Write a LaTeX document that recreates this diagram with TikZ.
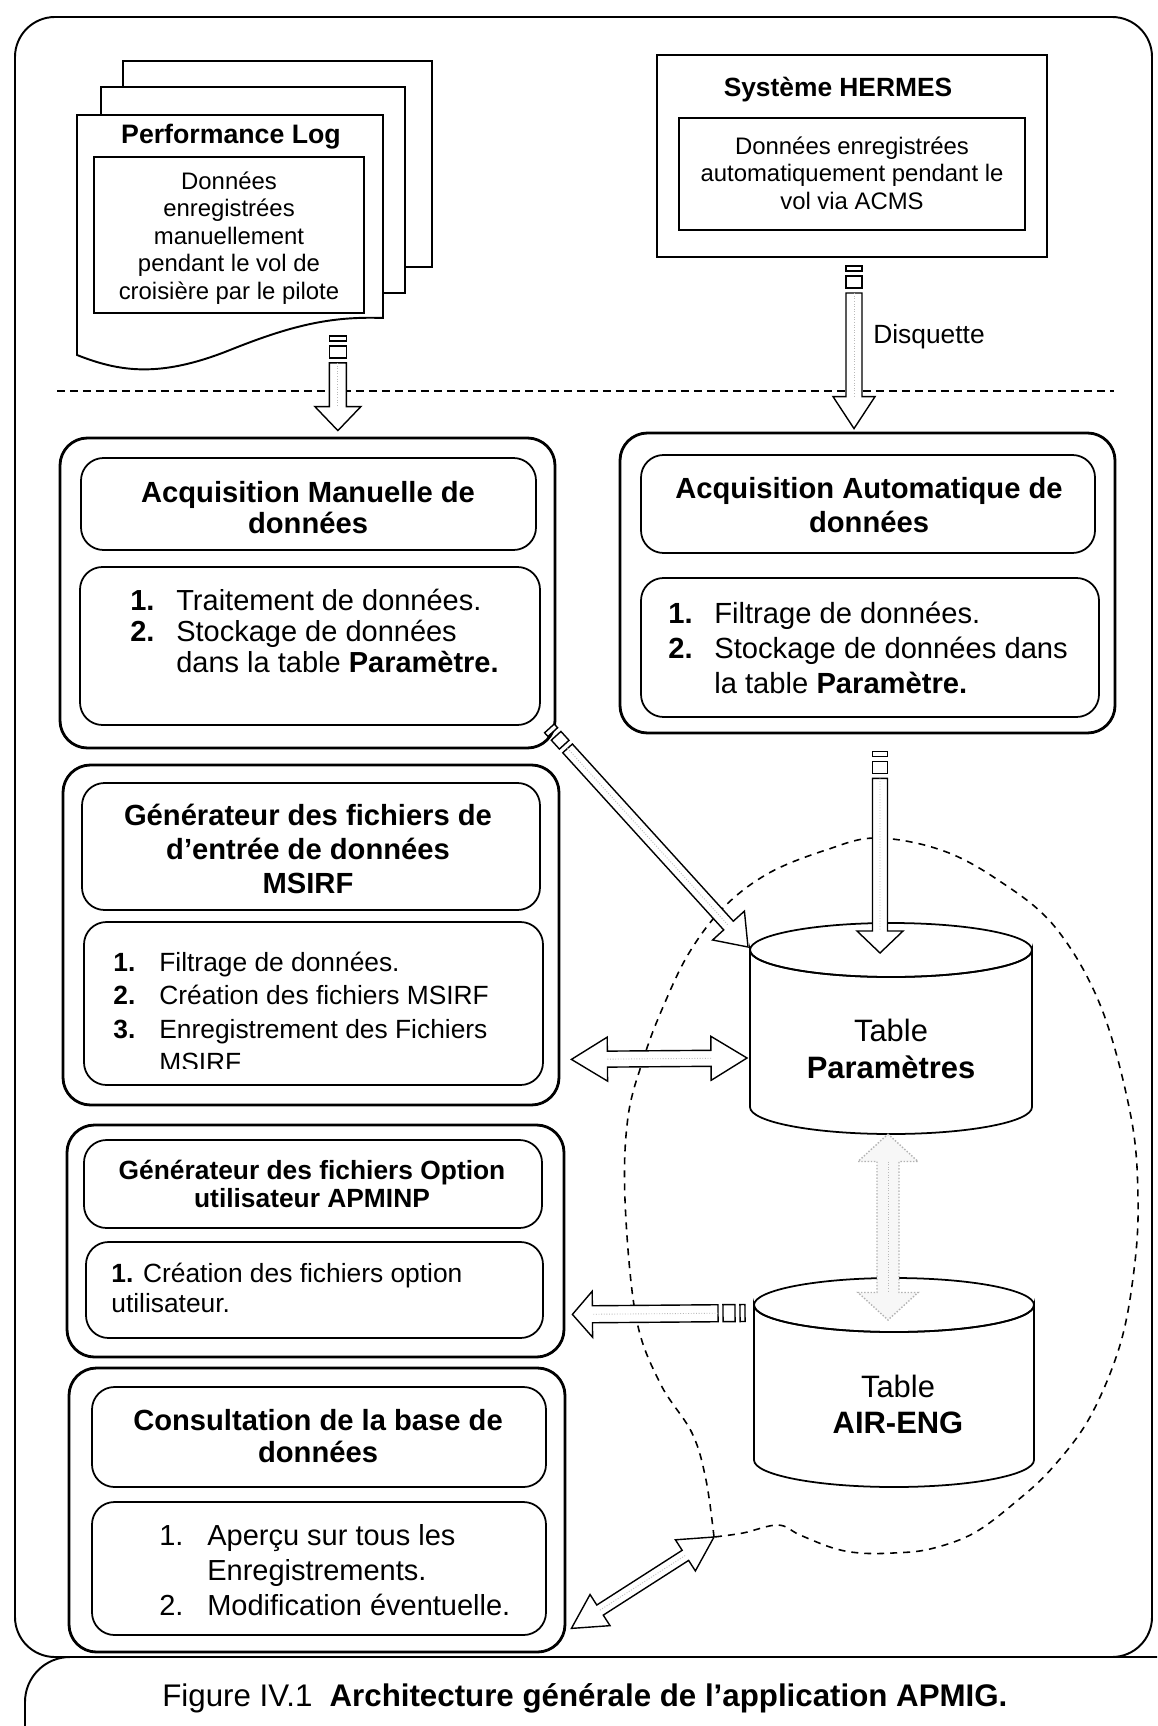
\documentclass[tikz,border=0pt]{standalone}
\usepackage{fontspec}
\setmainfont{Liberation Sans}
\usetikzlibrary{calc,fit}

% Block arrow with two stripes at the tail: [style]{tail}{tip}{shaft half width}{head half width}{head length}
\newcommand\stripedarrow[6][]{%
  \coordinate (sA) at (#2);
  \coordinate (sB) at (#3);
  \coordinate (s1) at ($(sA)!0.1cm!(sB)$);
  \coordinate (s2) at ($(sA)!0.2cm!(sB)$);
  \coordinate (s3) at ($(sA)!0.44cm!(sB)$);
  \coordinate (s4) at ($(sA)!0.54cm!(sB)$);
  \coordinate (sH) at ($(sB)!#6!(sA)$);
  \draw[arrowpart,#1] ($(sA)!#4!90:(sB)$) -- ($(s1)!#4!90:(sB)$) -- ($(s1)!#4!-90:(sB)$) -- ($(sA)!#4!-90:(sB)$) -- cycle;
  \draw[arrowpart,#1] ($(s2)!#4!90:(sB)$) -- ($(s3)!#4!90:(sB)$) -- ($(s3)!#4!-90:(sB)$) -- ($(s2)!#4!-90:(sB)$) -- cycle;
  \draw[arrowpart,#1] ($(s4)!#4!90:(sB)$) -- ($(sH)!#4!90:(sB)$) -- ($(sH)!#5!90:(sB)$) -- (sB)
     -- ($(sH)!#5!-90:(sB)$) -- ($(sH)!#4!-90:(sB)$) -- ($(s4)!#4!-90:(sB)$) -- cycle;
  \draw[shaftdots] (s4) -- (sH);
}

% Block arrow with a head at both ends: [style]{end A}{end B}{shaft half width}{head half width}{head length}
\newcommand\doublearrow[6][]{%
  \coordinate (dA) at (#2);
  \coordinate (dB) at (#3);
  \coordinate (dHA) at ($(dA)!#6!(dB)$);
  \coordinate (dHB) at ($(dB)!#6!(dA)$);
  \draw[arrowpart,#1] (dA) -- ($(dHA)!#5!90:(dB)$) -- ($(dHA)!#4!90:(dB)$) -- ($(dHB)!#4!-90:(dA)$)
     -- ($(dHB)!#5!-90:(dA)$) -- (dB) -- ($(dHB)!#5!90:(dA)$) -- ($(dHB)!#4!90:(dA)$)
     -- ($(dHA)!#4!-90:(dB)$) -- ($(dHA)!#5!-90:(dB)$) -- cycle;
  \draw[shaftdots] (dHA) -- (dHB);
}

\begin{document}
\begin{tikzpicture}[x=0.02cm, y=-0.02cm,
  frame/.style={draw, line width=1.1pt, rounded corners=0.8cm, inner sep=0pt},
  outerbox/.style={draw, line width=1.6pt, rounded corners=0.55cm, inner sep=0pt},
  innerbox/.style={draw, line width=1pt, rounded corners=0.45cm, inner sep=0pt},
  sqbox/.style={draw, line width=1.1pt, fill=white, inner sep=0pt},
  arrowpart/.style={draw, line width=0.8pt, fill=white, line join=miter},
  shaftdots/.style={gray!55, densely dotted, line width=0.5pt},
  sepline/.style={dash pattern=on 0.16cm off 0.1cm, line width=0.8pt},
  ovalline/.style={dash pattern=on 0.14cm off 0.12cm, line width=0.9pt},
  cyl/.style={line width=1pt},
  txt/.style={inner sep=0pt},
]
\useasboundingbox (0,0) rectangle (1157,1726);
\clip (0,0) rectangle (1157,1726);
\fill[white] (0,0) rectangle (1157,1726);

% outer frame and caption band
\node[frame, fit={(15,17) (1152,1657)}] (frame) {};
\node[frame, rounded corners=0.9cm, fit={(25,1657) (1250,1820)}] (capbox) {};
\node[txt, anchor=west, font=\fontsize{17.8}{20}\selectfont] (caption) at (162,1698)
  {Figure IV.1\hspace{0.55em}\textbf{Architecture générale de l’application APMIG.}};

% separation between data sources and the application
\draw[sepline] (57,391) -- (1114,391);

% boundary of the database
\coordinate (ovalnotch) at (714,1537);
\draw[ovalline] plot[smooth, tension=0.6] coordinates {
  (714,1537) (706,1480) (692,1433) (660,1383) (636,1317) (625,1200) (628,1117)
  (644,1057) (663,1007) (689,953) (724,907) (769,873) (826,850) (876,838)
  (941,850) (998,880) (1055,927) (1101,1007) (1131,1117) (1138,1200) (1134,1270)
  (1120,1345) (1090,1417) (1053,1467) (1018,1500) (974,1533) (930,1549)
  (893,1553) (860,1553) (833,1548) (800,1535) (778,1525) (743,1533) (714,1537)};

% Performance Log: stack of pages
\node[sqbox, fit={(123,61) (432,267)}] (page3) {};
\node[sqbox, fit={(101,87) (405,293)}] (page2) {};
\draw[line width=1.1pt, fill=white] (77,115) -- (383,115) -- (383,318)
  .. controls (330,316) and (290,326) .. (230,350)
  .. controls (160,378) and (120,372) .. (77,355) -- cycle;
\node[txt, font=\fontsize{15.2}{17}\selectfont\bfseries] (perftitle) at (231,137) {Performance Log};
\node[sqbox, line width=1pt, fit={(94,157) (364,313)}] (perfinner) {};
\node[txt, align=center, font=\fontsize{13.6}{15.6}\selectfont] (perftext) at (229,238)
  {Données\\enregistrées\\manuellement\\pendant le vol de\\croisière par le pilote};

% HERMES system
\node[sqbox, fit={(657,55) (1047,257)}] (hermes) {};
\node[txt, font=\fontsize{15}{17}\selectfont\bfseries] (hermestitle) at (838,90) {Système HERMES};
\node[sqbox, line width=1pt, fit={(679,118) (1025,230)}] (hermesinner) {};
\node[txt, align=center, font=\fontsize{13.6}{15.6}\selectfont] (hermestext) at (852,173)
  {Données enregistrées\\automatiquement pendant le\\vol via ACMS};

% Manual acquisition
\node[outerbox, fit={(60,438) (555,748)}] (acqman) {};
\node[innerbox, fit={(81,458) (536,550)}] (acqmantitle) {};
\node[innerbox, fit={(80,567) (540,725)}] (acqmanlist) {};
\node[txt, align=center, font=\fontsize{16.6}{17.6}\selectfont\bfseries] (acqmanhead) at (308,507.5)
  {Acquisition Manuelle de\\données};
\node[txt, anchor=west, align=left, font=\fontsize{16.5}{17.6}\selectfont] (acqmansteps) at (130,631)
  {\makebox[0.92cm][l]{\textbf{1.}}Traitement de données.\\
   \makebox[0.92cm][l]{\textbf{2.}}Stockage de données\\
   \hspace*{0.92cm}dans la table \textbf{Paramètre.}};

% Automatic acquisition
\node[outerbox, fit={(620,433) (1115,733)}] (acqauto) {};
\node[innerbox, fit={(641,455) (1095,553)}] (acqautotitle) {};
\node[innerbox, fit={(641,578) (1099,717)}] (acqautolist) {};
\node[txt, align=center, font=\fontsize{16.6}{19.4}\selectfont\bfseries] (acqautohead) at (869,505)
  {Acquisition Automatique de\\données};
\node[txt, anchor=west, align=left, font=\fontsize{16.6}{20}\selectfont] (acqautosteps) at (668,648)
  {\makebox[0.92cm][l]{\textbf{1.}}Filtrage de données.\\
   \makebox[0.92cm][l]{\textbf{2.}}Stockage de données dans\\
   \hspace*{0.92cm}la table \textbf{Paramètre.}};

% MSIRF input file generator
\node[outerbox, fit={(63,765) (559,1105)}] (msirf) {};
\node[innerbox, fit={(82,783) (540,910)}] (msirftitle) {};
\node[innerbox, fit={(84,922) (543,1085)}] (msirflist) {};
\node[txt, align=center, font=\fontsize{16.6}{19.4}\selectfont\bfseries] (msirfhead) at (308,849)
  {Générateur des fichiers de\\d’entrée de données\\MSIRF};
\begin{scope}
  \clip (84,922) rectangle (543,1068);
  \node[txt, anchor=west, align=left, font=\fontsize{15}{19}\selectfont] (msirfsteps) at (113,1012)
    {\makebox[0.92cm][l]{\textbf{1.}}Filtrage de données.\\
     \makebox[0.92cm][l]{\textbf{2.}}Création des fichiers MSIRF\\
     \makebox[0.92cm][l]{\textbf{3.}}Enregistrement des Fichiers\\
     \hspace*{0.92cm}MSIRF};
\end{scope}

% APMINP user option file generator
\node[outerbox, fit={(67,1125) (564,1357)}] (apminp) {};
\node[innerbox, fit={(84,1140) (542,1228)}] (apminptitle) {};
\node[innerbox, fit={(86,1242) (543,1338)}] (apminplist) {};
\node[txt, align=center, font=\fontsize{15}{16}\selectfont\bfseries] (apminphead) at (312,1184)
  {Générateur des fichiers Option\\utilisateur APMINP};
\node[txt, anchor=west, align=left, font=\fontsize{15}{17}\selectfont] (apminpsteps) at (111,1288)
  {\textbf{1.} Création des fichiers option\\utilisateur.};

% Database browsing
\node[outerbox, fit={(69,1368) (565,1652)}] (consult) {};
\node[innerbox, fit={(92,1387) (546,1487)}] (consulttitle) {};
\node[innerbox, fit={(92,1502) (546,1635)}] (consultlist) {};
\node[txt, align=center, font=\fontsize{16.6}{18.2}\selectfont\bfseries] (consulthead) at (318,1436)
  {Consultation de la base de\\données};
\node[txt, anchor=west, align=left, font=\fontsize{16.5}{20}\selectfont] (consultsteps) at (159,1570)
  {\makebox[0.96cm][l]{1.}Aperçu sur tous les\\
   \hspace*{0.96cm}Enregistrements.\\
   \makebox[0.96cm][l]{2.}Modification éventuelle.};

% tables of the database
\coordinate (pTop) at (891,950);
\coordinate (pBot) at (891,1107);
\draw[cyl, fill=white] (750,950) -- (750,1107) arc[start angle=180, end angle=0, x radius=141, y radius=27]
  -- (1032,950) arc[start angle=0, end angle=180, x radius=141, y radius=27] -- cycle;
\draw[cyl] (pTop) ellipse[x radius=141, y radius=27];
\node[txt, align=center, font=\fontsize{17.6}{21}\selectfont] (param) at (891,1048.5)
  {Table\\\textbf{Paramètres}};

\coordinate (aTop) at (894,1305);
\coordinate (aBot) at (894,1460);
\draw[cyl, fill=white] (754,1305) -- (754,1460) arc[start angle=180, end angle=0, x radius=140, y radius=27]
  -- (1034,1305) arc[start angle=0, end angle=180, x radius=140, y radius=27] -- cycle;
\draw[cyl] (aTop) ellipse[x radius=140, y radius=27];
\node[txt, align=center, font=\fontsize{17.6}{20}\selectfont] (aireng) at (898,1404.5)
  {Table\\\textbf{AIR-ENG}};

% data flows
\coordinate (perfout) at ($(perfinner.south east)+(-27,22)$);
\stripedarrow{perfout}{$(acqman.north -| perfout)+(0,-6)$}{0.17cm}{0.46cm}{0.48cm}
\stripedarrow{$(hermes.south)+(2,8)$}{$(acqauto.north)+(-13.5,-3)$}{0.16cm}{0.42cm}{0.64cm}
\node[txt, anchor=west, font=\fontsize{15}{17}\selectfont] (disquette) at (873,337) {Disquette};
\stripedarrow{$(acqman.south east)+(-7,-21)$}{$(pTop)+(-143,-3)$}{0.13cm}{0.43cm}{0.58cm}
\stripedarrow{$(acqauto.south)+(12.5,17)$}{$(pTop)+(-11,3)$}{0.15cm}{0.46cm}{0.44cm}
\doublearrow{$(msirf.south east)+(11,-47)$}{$(pBot)+(-144,-49)$}{0.16cm}{0.44cm}{0.72cm}
\doublearrow[draw=gray!60, densely dotted, fill=gray!6]{$(pBot)+(-3,27)$}{$(aTop)+(-6,15)$}{0.22cm}{0.6cm}{0.55cm}
\stripedarrow{$(aTop)+(-149,8)$}{$(apminp.south east)+(7,-44)$}{0.17cm}{0.46cm}{0.4cm}
\doublearrow{$(consult.south east)+(5,-25)$}{ovalnotch}{0.12cm}{0.37cm}{0.68cm}
\end{tikzpicture}
\end{document}
